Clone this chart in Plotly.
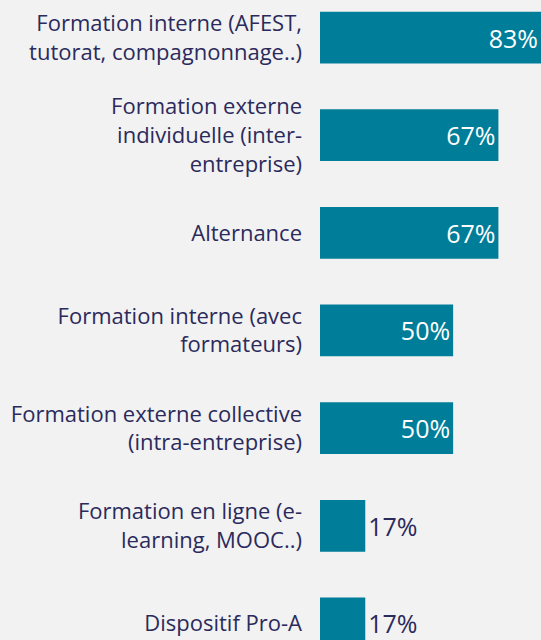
import plotly.graph_objects as go

categories = [
    "Formation interne (AFEST,<br>tutorat, compagnonnage..)",
    "Formation externe<br>individuelle (inter-<br>entreprise)",
    "Alternance",
    "Formation interne (avec<br>formateurs)",
    "Formation externe collective<br>(intra-entreprise)",
    "Formation en ligne (e-<br>learning, MOOC..)",
    "Dispositif Pro-A",
]
values = [83, 67, 67, 50, 50, 17, 17]
labels = [f"{v}%" for v in values]

navy = "#2b2a5c"
teal = "#007d99"

positions = ["inside" if v >= 50 else "outside" for v in values]
text_colors = ["white" if v >= 50 else navy for v in values]

fig = go.Figure()
fig.add_trace(go.Bar(
    y=categories, x=values, orientation="h",
    marker=dict(color=teal, line=dict(width=0)),
    width=0.53,
    text=labels, textposition=positions,
    insidetextanchor="end",
    textfont=dict(size=25, color=text_colors, family="Open Sans"),
    cliponaxis=False,
    hoverinfo="skip",
))

fig.update_layout(
    width=541, height=640,
    margin=dict(l=320, r=0, t=0, b=0),
    paper_bgcolor="#f2f2f2", plot_bgcolor="#f2f2f2",
    font=dict(family="Open Sans", color=navy, size=22),
    showlegend=False,
    xaxis=dict(range=[0, 83], visible=False, fixedrange=True),
    yaxis=dict(
        range=[6.17, -0.385], showgrid=False, zeroline=False, fixedrange=True,
        ticks="", ticklabelstandoff=17, tickfont=dict(size=22, color=navy),
    ),
)

# page body margin off so the figure sits at the window corner
fig.write_html("out.html", config={"displayModeBar": False},
               post_script="document.body.style.margin='0';")
